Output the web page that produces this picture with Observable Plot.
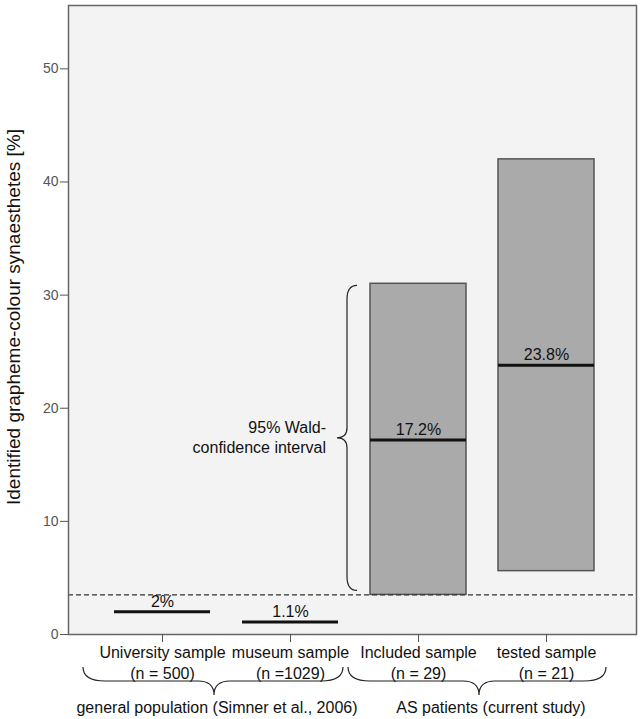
<!DOCTYPE html>
<html><head><meta charset="utf-8">
<script src="https://cdn.jsdelivr.net/npm/d3@7"></script>
<script src="https://cdn.jsdelivr.net/npm/@observablehq/plot@0.6"></script>
<style>body{margin:0;background:#fff;font-family:"Liberation Sans",Arial,sans-serif}</style>
</head><body><div id="chart"></div>
<script>
const categories = ["University sample", "museum sample", "Included sample", "tested sample"];
const sampleSizes = ["n = 500", "n =1029", "n = 29", "n = 21"];
const estimates = [2, 1.1, 17.2, 23.8];
const estimateLabels = ["2%", "1.1%", "17.2%", "23.8%"];
const ciLower = [null, null, 3.5, 5.6];
const ciUpper = [null, null, 31.0, 42.0];
const thresholdLine = 3.5;
const yTicks = [0, 10, 20, 30, 40, 50];
const yLabel = "Identified grapheme-colour synaesthetes [%]";
const groups = ["general population (Simner et al., 2006)", "AS patients (current study)"];
const groupMembers = [[0, 1], [2, 3]];
const ciNote = ["95% Wald-", "confidence interval"];

const rows = categories.map((c, i) => ({cat: c, n: sampleSizes[i], est: estimates[i], label: estimateLabels[i], lo: ciLower[i], hi: ciUpper[i]}));
const ciRows = rows.filter(d => d.lo != null);
const font = "'Liberation Sans', Arial, sans-serif";

const plot = Plot.plot({
  width: 644, height: 719,
  marginLeft: 68, marginRight: 8, marginTop: 5, marginBottom: 85,
  style: {fontFamily: font, fontSize: "16px", background: "#fff", overflow: "visible"},
  x: {type: "band", domain: categories, paddingInner: 0.25, paddingOuter: 0.342, align: 0.523},
  y: {domain: [0, 55.6]},
  marks: [
    Plot.frame({fill: "#f3f3f3", stroke: "none"}),
    Plot.barY(ciRows, {x: "cat", y1: "lo", y2: "hi", fill: "#aaaaaa", stroke: "#555", strokeWidth: 1.5}),
    Plot.ruleY([thresholdLine], {stroke: "#333", strokeWidth: 1.2, strokeDasharray: "5,3"}),
    Plot.tickY(rows, {x: "cat", y: "est", stroke: "#111", strokeWidth: 3}),
    Plot.text(rows, {x: "cat", y: "est", text: "label", dy: -10, fontSize: 16, fill: "#111"}),
    Plot.frame({stroke: "#666", strokeWidth: 1.5}),
    Plot.axisY({ticks: yTicks, tickSize: 8, tickPadding: 2, fontSize: 14, color: "#555", label: null}),
    Plot.axisX({tickSize: 8, tickPadding: 1, fontSize: 16, lineHeight: 1.3, stroke: "#555", fill: "#111", label: null,
      tickFormat: d => d + "\n(" + sampleSizes[categories.indexOf(d)] + ")"}),
    Plot.text([yLabel], {text: d => d, frameAnchor: "left", textAnchor: "middle", rotate: -90, dx: -55, dy: -3, fontSize: 19, fill: "#111"})
  ]
});
document.getElementById("chart").appendChild(plot);

const sx = plot.scale("x"), sy = plot.scale("y");
const bw = sx.bandwidth;
const svg = d3.select(plot);
const g = svg.append("g").attr("fill", "none").attr("stroke", "#222").attr("stroke-width", 1.2);

function vBrace(x0, y1, y2, w) {
  const xs = x0 - w / 2, xt = x0 - w, ym = (y1 + y2) / 2, r = 14, rt = 10;
  return `M${x0},${y1} Q${xs},${y1} ${xs},${y1 + r} L${xs},${ym - rt} Q${xs},${ym} ${xt},${ym} Q${xs},${ym} ${xs},${ym + rt} L${xs},${y2 - r} Q${xs},${y2} ${x0},${y2}`;
}
function hBrace(xa, xb, xt, yEnd, ySp, yTip) {
  const r = 22, rt = 16;
  return `M${xa},${yEnd} Q${xa},${ySp} ${xa + r},${ySp} L${xt - rt},${ySp} Q${xt},${ySp} ${xt},${yTip} Q${xt},${ySp} ${xt + rt},${ySp} L${xb - r},${ySp} Q${xb},${ySp} ${xb},${yEnd}`;
}

// CI brace beside the included sample
const inc = ciRows[0];
const barLeft = sx.apply(inc.cat);
const bTop = sy.apply(inc.hi) + 2, bBot = sy.apply(inc.lo) - 4;
g.append("path").attr("d", vBrace(barLeft - 13, bTop, bBot, 20));
const ym = (bTop + bBot) / 2;
ciNote.forEach((t, i) => {
  svg.append("text").attr("x", barLeft - 44).attr("y", ym - 10 + i * 20).attr("dy", "0.35em")
    .attr("text-anchor", "end").attr("font-family", font).attr("font-size", 16).attr("fill", "#111").text(t);
});

// Group braces below the x axis
const base = sy.apply(0);
const extents = [[-31, 5, -12, -9], [-22, 12, -3, 9]];
groupMembers.forEach((m, gi) => {
  const [a, b] = m;
  const xa = sx.apply(categories[a]) + extents[gi][0];
  const xb = sx.apply(categories[b]) + bw + extents[gi][1];
  const mid = (sx.apply(categories[a]) + sx.apply(categories[b]) + bw) / 2;
  g.append("path").attr("d", hBrace(xa, xb, mid + extents[gi][2], base + 33, base + 47, base + 61));
  svg.append("text").attr("x", mid + extents[gi][3]).attr("y", base + 73).attr("dy", "0.35em")
    .attr("text-anchor", "middle").attr("font-family", font).attr("font-size", 16).attr("fill", "#111").text(groups[gi]);
});
</script>
</body></html>
